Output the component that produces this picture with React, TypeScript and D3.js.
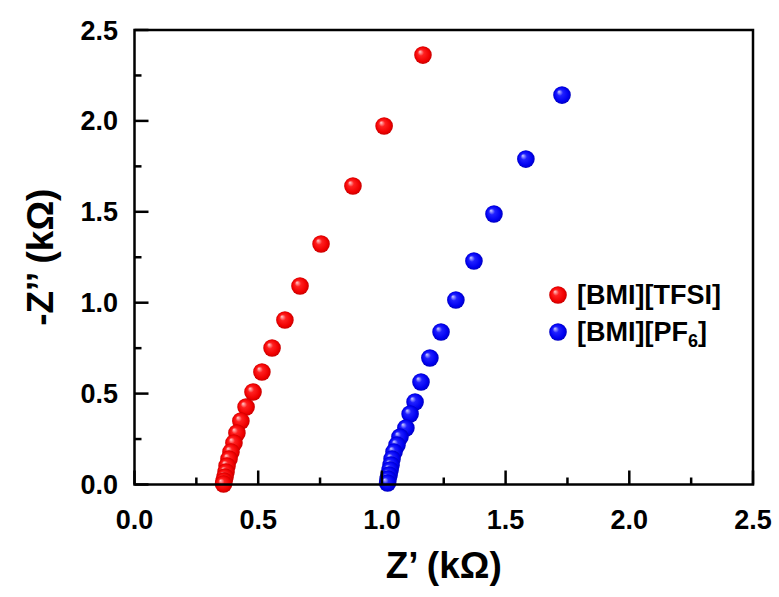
import React from "react";
import * as d3 from "d3";

// [BMI][TFSI] Nyquist points (Z', -Z'') in kOhm
const tfsiX = [1.166, 1.009, 0.883, 0.754, 0.669, 0.608, 0.556, 0.515, 0.479, 0.451, 0.430, 0.414, 0.402, 0.390, 0.382, 0.374, 0.370, 0.366, 0.362, 0.360];
const tfsiY = [2.362, 1.972, 1.642, 1.323, 1.092, 0.905, 0.751, 0.619, 0.509, 0.426, 0.349, 0.283, 0.228, 0.179, 0.140, 0.102, 0.069, 0.041, 0.019, 0.003];

// [BMI][PF6] Nyquist points
const pf6X = [1.728, 1.582, 1.453, 1.372, 1.299, 1.239, 1.194, 1.158, 1.134, 1.114, 1.097, 1.073, 1.061, 1.049, 1.041, 1.037, 1.033, 1.029, 1.025, 1.023];
const pf6Y = [2.142, 1.790, 1.488, 1.229, 1.015, 0.839, 0.696, 0.564, 0.454, 0.388, 0.311, 0.261, 0.217, 0.179, 0.140, 0.107, 0.080, 0.052, 0.030, 0.008];

const majorTicks = [0, 0.5, 1.0, 1.5, 2.0, 2.5];
const minorTicks = [0.25, 0.75, 1.25, 1.75, 2.25];

const W = 779;
const H = 597;
const left = 134.5, right = 753, top = 30, bottom = 484.5;
const font = "'Liberation Sans', Arial, sans-serif";

const App = () => {
  const x = d3.scaleLinear().domain([0, 2.5]).range([left, right]);
  const y = d3.scaleLinear().domain([0, 2.5]).range([bottom, top]);
  const r = 8.8;

  const series = [
    { xs: tfsiX, ys: tfsiY, grad: "gRed" },
    { xs: pf6X, ys: pf6Y, grad: "gBlue" },
  ];

  return (
    <svg width={W} height={H} style={{ position: "absolute", left: 0, top: 0, display: "block" }}>
      <defs>
        <radialGradient id="gRed" cx="0.5" cy="0.5" r="0.5" fx="0.32" fy="0.3">
          <stop offset="0%" stopColor="#ffd0d0" />
          <stop offset="35%" stopColor="#ff2020" />
          <stop offset="80%" stopColor="#f00000" />
          <stop offset="100%" stopColor="#c80000" />
        </radialGradient>
        <radialGradient id="gBlue" cx="0.5" cy="0.5" r="0.5" fx="0.32" fy="0.3">
          <stop offset="0%" stopColor="#d0d0ff" />
          <stop offset="35%" stopColor="#2020ff" />
          <stop offset="80%" stopColor="#0000f0" />
          <stop offset="100%" stopColor="#0000c0" />
        </radialGradient>
      </defs>

      {series.map((s, si) => (
        <g key={si}>
          {s.xs.map((v, i) => (
            <circle key={i} cx={x(v)} cy={y(s.ys[i])} r={r} fill={`url(#${s.grad})`} />
          ))}
        </g>
      ))}

      {/* frame */}
      <rect x={left} y={top} width={right - left} height={bottom - top} fill="none" stroke="#000" strokeWidth={2.5} />

      {/* x ticks */}
      {majorTicks.map((t) => (
        <line key={"xm" + t} x1={x(t)} x2={x(t)} y1={bottom} y2={bottom - 14} stroke="#000" strokeWidth={2.5} />
      ))}
      {minorTicks.map((t) => (
        <line key={"xn" + t} x1={x(t)} x2={x(t)} y1={bottom} y2={bottom - 7} stroke="#000" strokeWidth={2.5} />
      ))}
      {/* y ticks */}
      {majorTicks.map((t) => (
        <line key={"ym" + t} x1={left} x2={left + 14} y1={y(t)} y2={y(t)} stroke="#000" strokeWidth={2.5} />
      ))}
      {minorTicks.map((t) => (
        <line key={"yn" + t} x1={left} x2={left + 7} y1={y(t)} y2={y(t)} stroke="#000" strokeWidth={2.5} />
      ))}

      {/* tick labels */}
      {majorTicks.map((t) => (
        <text key={"xl" + t} x={x(t)} y={529} textAnchor="middle" fontFamily={font} fontWeight="bold" fontSize={27}>
          {t.toFixed(1)}
        </text>
      ))}
      {majorTicks.map((t) => (
        <text key={"yl" + t} x={118} y={y(t) + 9.5} textAnchor="end" fontFamily={font} fontWeight="bold" fontSize={27}>
          {t.toFixed(1)}
        </text>
      ))}

      {/* axis titles */}
      <text x={(left + right) / 2} y={578} textAnchor="middle" fontFamily={font} fontWeight="bold" fontSize={37}>
        Z’ (kΩ)
      </text>
      <text transform={`translate(53,${(top + bottom) / 2}) rotate(-90)`} textAnchor="middle" fontFamily={font} fontWeight="bold" fontSize={37}>
        -Z’’ (kΩ)
      </text>

      {/* legend */}
      <circle cx={558} cy={295} r={r} fill="url(#gRed)" />
      <circle cx={558} cy={332} r={r} fill="url(#gBlue)" />
      <text x={577} y={304} fontFamily={font} fontWeight="bold" fontSize={27}>
        [BMI][TFSI]
      </text>
      <text x={577} y={341} fontFamily={font} fontWeight="bold" fontSize={27}>
        [BMI][PF<tspan fontSize={18} dy={6}>6</tspan><tspan dy={-6}>]</tspan>
      </text>
    </svg>
  );
};

export default App;
